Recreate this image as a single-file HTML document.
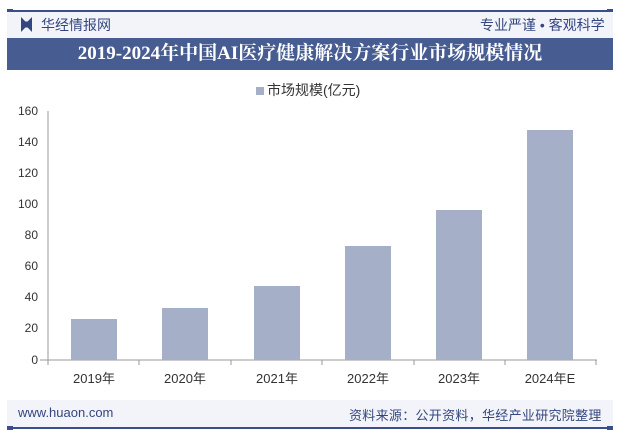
<!DOCTYPE html>
<html><head><meta charset="utf-8"><style>
body{margin:0;width:625px;height:439px;background:#fff;overflow:hidden;font-family:"Liberation Sans","Noto Sans CJK SC",sans-serif;position:relative}
.a{position:absolute}
</style></head><body>
<div class="a" style="left:7px;top:10px;width:606px;height:2px;background:#3a4f8a"></div>
<div class="a" style="left:7px;top:9px;width:6px;height:4px;background:#3a4f8a"></div>
<div class="a" style="left:607px;top:9px;width:6px;height:4px;background:#3a4f8a"></div>
<div class="a" style="left:7px;top:12px;width:606px;height:26px;background:#f2f4f9"></div>
<div class="a" style="left:21px;top:17px;width:11px;height:15px;background:#34467f;clip-path:polygon(0 0,40% 30%,60% 30%,100% 0,100% 100%,60% 70%,40% 70%,0 100%)"></div>
<div class="a" style="left:41px;top:15px;font-size:14px;color:#34467f">华经情报网</div>
<div class="a" style="left:480px;top:15px;font-size:14px;color:#34467f">专业严谨 • 客观科学</div>
<div class="a" style="left:7px;top:38px;width:606px;height:32px;background:#475d92"></div>
<div class="a" style="left:7px;top:38px;width:606px;height:32px;line-height:32px;text-align:center;color:#fff;font-size:19px;font-weight:bold;font-family:'Liberation Serif','Noto Serif CJK SC',serif">2019-2024年中国AI医疗健康解决方案行业市场规模情况</div>
<div class="a" style="left:256px;top:87px;width:8px;height:8px;background:#a5afc8"></div>
<div class="a" style="left:267px;top:80px;font-size:14px;color:#333">市场规模(亿元)</div>
<svg class="a" style="left:0;top:0" width="625" height="439">
<g font-size="12" fill="#333" text-anchor="end" font-family="Liberation Sans">
<text x="38" y="115">160</text><text x="38" y="146">140</text><text x="38" y="177">120</text><text x="38" y="208">100</text><text x="38" y="239">80</text><text x="38" y="270">60</text><text x="38" y="301">40</text><text x="38" y="332">20</text><text x="38" y="364">0</text>
</g>
<line x1="48" y1="111" x2="48" y2="360" stroke="#999"/>
<line x1="40" y1="360" x2="597" y2="360" stroke="#999"/>
<g stroke="#999"><line x1="48" y1="360" x2="48" y2="365"/><line x1="139" y1="360" x2="139" y2="365"/><line x1="231" y1="360" x2="231" y2="365"/><line x1="322" y1="360" x2="322" y2="365"/><line x1="414" y1="360" x2="414" y2="365"/><line x1="505" y1="360" x2="505" y2="365"/><line x1="596" y1="360" x2="596" y2="365"/></g>
<g fill="#a5afc8">
<rect x="71" y="319" width="46" height="41"/><rect x="162" y="308" width="46" height="52"/><rect x="254" y="286" width="46" height="74"/><rect x="345" y="246" width="46" height="114"/><rect x="436" y="210" width="46" height="150"/><rect x="527" y="130" width="46" height="230"/>
</g>
<g font-size="13" fill="#333" text-anchor="middle">
<text x="94" y="383">2019年</text><text x="185" y="383">2020年</text><text x="277" y="383">2021年</text><text x="368" y="383">2022年</text><text x="459" y="383">2023年</text><text x="550" y="383">2024年E</text>
</g>
</svg>
<div class="a" style="left:7px;top:400px;width:606px;height:27px;background:#f2f4f9"></div>
<div class="a" style="left:18px;top:405px;font-size:13px;color:#34467f">www.huaon.com</div>
<div class="a" style="left:349px;top:405px;font-size:13px;color:#34467f;letter-spacing:0.3px">资料来源：公开资料，华经产业研究院整理</div>
<div class="a" style="left:7px;top:427px;width:606px;height:2px;background:#3a4f8a"></div>
<div class="a" style="left:7px;top:426px;width:6px;height:4px;background:#3a4f8a"></div>
<div class="a" style="left:607px;top:426px;width:6px;height:4px;background:#3a4f8a"></div>
</body></html>
